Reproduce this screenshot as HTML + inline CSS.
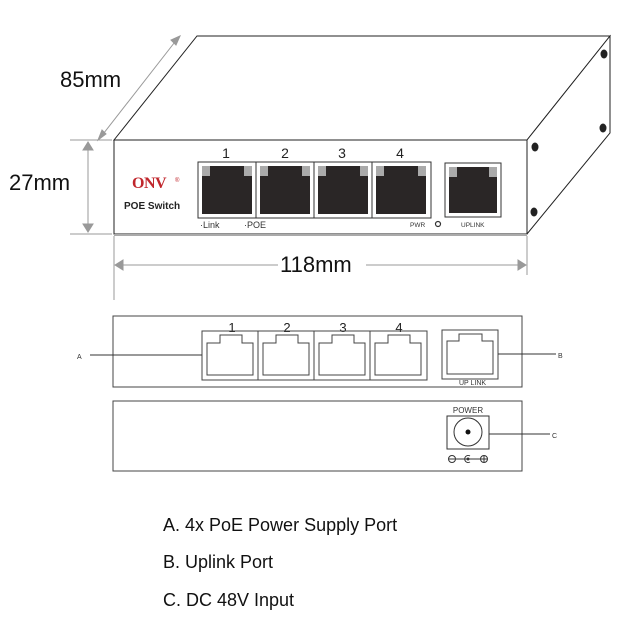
<!DOCTYPE html>
<html><head><meta charset="utf-8"><style>
html,body{margin:0;padding:0;background:#fff;}
svg{display:block;font-family:"Liberation Sans",Arial,sans-serif;}
</style></head><body>
<svg width="635" height="626" viewBox="0 0 635 626" xmlns="http://www.w3.org/2000/svg">
<polygon points="114,140 197,36 610,36 527,140" fill="#fff" stroke="#222" stroke-width="1"/>
<polygon points="527,140 610,36 610,133 527,234" fill="#fff" stroke="#222" stroke-width="1"/>
<rect x="114" y="140" width="413" height="94" fill="#fff" stroke="#222" stroke-width="1"/>
<line x1="114" y1="235" x2="527" y2="235" stroke="#aaa" stroke-width="2"/>
<ellipse cx="604" cy="54" rx="3.5" ry="4.5" fill="#222"/>
<ellipse cx="603" cy="128" rx="3.5" ry="4.5" fill="#222"/>
<ellipse cx="535" cy="147" rx="3.5" ry="4.5" fill="#222"/>
<ellipse cx="534" cy="212" rx="3.5" ry="4.5" fill="#222"/>
<g stroke="#999" stroke-width="1" fill="#999">
<line x1="100" y1="138" x2="178" y2="38"/>
<polygon points="98,140 102,130 106,134"/>
<polygon points="180,36 171,40 176,45"/>
<line x1="70" y1="140" x2="112" y2="140"/>
<line x1="70" y1="234" x2="112" y2="234"/>
<line x1="88" y1="144" x2="88" y2="230"/>
<polygon points="88,142 83,150 93,150"/>
<polygon points="88,232 83,224 93,224"/>
<line x1="114" y1="236" x2="114" y2="300"/>
<line x1="527" y1="236" x2="527" y2="275"/>
<line x1="118" y1="265" x2="523" y2="265"/>
<polygon points="115,265 123,260 123,270"/>
<polygon points="526,265 518,260 518,270"/>
</g>
<text x="60" y="87" font-size="22" fill="#111">85mm</text>
<text x="9" y="190" font-size="22" fill="#111">27mm</text>
<rect x="278" y="249" width="88" height="26" fill="#fff"/>
<text x="280" y="272" font-size="22" fill="#111">118mm</text>
<text x="132" y="188" font-size="16" font-weight="bold" fill="#c0262c" font-family="Liberation Serif,serif" letter-spacing="-0.5">ONV</text>
<text x="175" y="182" font-size="6" fill="#c0262c">®</text>
<text x="124" y="209" font-size="10" font-weight="bold" fill="#222">POE Switch</text>
<g font-size="14" fill="#222" text-anchor="middle">
<text x="226" y="158">1</text><text x="285" y="158">2</text><text x="342" y="158">3</text><text x="400" y="158">4</text>
</g>
<g>
<rect x="198" y="162" width="233" height="56" fill="#fff" stroke="#333"/>
<line x1="256" y1="162" x2="256" y2="218" stroke="#333"/>
<line x1="314" y1="162" x2="314" y2="218" stroke="#333"/>
<line x1="372" y1="162" x2="372" y2="218" stroke="#333"/>
<rect x="202" y="166" width="50" height="48" fill="#2a2626"/>
<rect x="260" y="166" width="50" height="48" fill="#2a2626"/>
<rect x="318" y="166" width="50" height="48" fill="#2a2626"/>
<rect x="376" y="166" width="50" height="48" fill="#2a2626"/>
<rect x="445" y="163" width="56" height="54" fill="#fff" stroke="#333"/>
<rect x="449" y="167" width="48" height="46" fill="#2a2626"/>
<g fill="#aaa">
<rect x="202" y="166" width="8" height="10"/><rect x="244" y="166" width="8" height="10"/>
<rect x="260" y="166" width="8" height="10"/><rect x="302" y="166" width="8" height="10"/>
<rect x="318" y="166" width="8" height="10"/><rect x="360" y="166" width="8" height="10"/>
<rect x="376" y="166" width="8" height="10"/><rect x="418" y="166" width="8" height="10"/>
<rect x="449" y="167" width="8" height="10"/><rect x="489" y="167" width="8" height="10"/>
</g>
</g>
<text x="200" y="228" font-size="9" fill="#333">·Link</text>
<text x="244" y="228" font-size="9" fill="#333">·POE</text>
<text x="410" y="227" font-size="6.5" fill="#333">PWR</text>
<circle cx="438" cy="224" r="2.5" fill="none" stroke="#333" stroke-width="1.2"/>
<text x="461" y="227" font-size="6.5" fill="#333">UPLINK</text>
<rect x="113" y="316" width="409" height="71" fill="#fff" stroke="#444"/>
<g font-size="13" fill="#222" text-anchor="middle">
<text x="232" y="332">1</text><text x="287" y="332">2</text><text x="343" y="332">3</text><text x="399" y="332">4</text>
</g>
<rect x="202" y="331" width="225" height="49" fill="none" stroke="#444"/>
<line x1="258" y1="331" x2="258" y2="380" stroke="#444"/>
<line x1="314" y1="331" x2="314" y2="380" stroke="#444"/>
<line x1="370" y1="331" x2="370" y2="380" stroke="#444"/>
<g fill="none" stroke="#444">
<path d="M207,375 V343 H220 V335 H242 V343 H253 V375 Z"/>
<path d="M263,375 V343 H276 V335 H298 V343 H309 V375 Z"/>
<path d="M319,375 V343 H332 V335 H354 V343 H365 V375 Z"/>
<path d="M375,375 V343 H388 V335 H410 V343 H421 V375 Z"/>
<rect x="442" y="330" width="56" height="49"/>
<path d="M447,374 V341 H459 V334 H482 V341 H493 V374 Z"/>
</g>
<text x="459" y="385" font-size="7" fill="#333">UP LINK</text>
<line x1="90" y1="355" x2="202" y2="355" stroke="#333"/>
<text x="77" y="359" font-size="7" fill="#333">A</text>
<line x1="498" y1="354" x2="556" y2="354" stroke="#333"/>
<text x="558" y="358" font-size="7" fill="#333">B</text>
<rect x="113" y="401" width="409" height="70" fill="#fff" stroke="#444"/>
<text x="468" y="413" font-size="8" fill="#333" text-anchor="middle">POWER</text>
<rect x="447" y="416" width="42" height="33" fill="none" stroke="#333"/>
<circle cx="468" cy="432" r="14" fill="none" stroke="#333"/>
<circle cx="468" cy="432" r="2.5" fill="#111"/>
<line x1="489" y1="434" x2="550" y2="434" stroke="#333"/>
<text x="552" y="438" font-size="7" fill="#333">C</text>
<g stroke="#333" fill="none" stroke-width="1">
<circle cx="452" cy="459" r="3.5"/><line x1="449" y1="459" x2="455" y2="459"/>
<line x1="456" y1="459" x2="480" y2="459"/>
<path d="M470,456 A3.5,3.5 0 1 0 470,462"/>
<circle cx="484" cy="459" r="3.5"/><line x1="481" y1="459" x2="487" y2="459"/><line x1="484" y1="456" x2="484" y2="462"/>
</g>
<circle cx="468" cy="459" r="1.5" fill="#333"/>
<g font-size="18" fill="#111">
<text x="163" y="531">A. 4x PoE Power Supply Port</text>
<text x="163" y="568">B. Uplink Port</text>
<text x="163" y="606">C. DC 48V Input</text>
</g>
</svg>
</body></html>
